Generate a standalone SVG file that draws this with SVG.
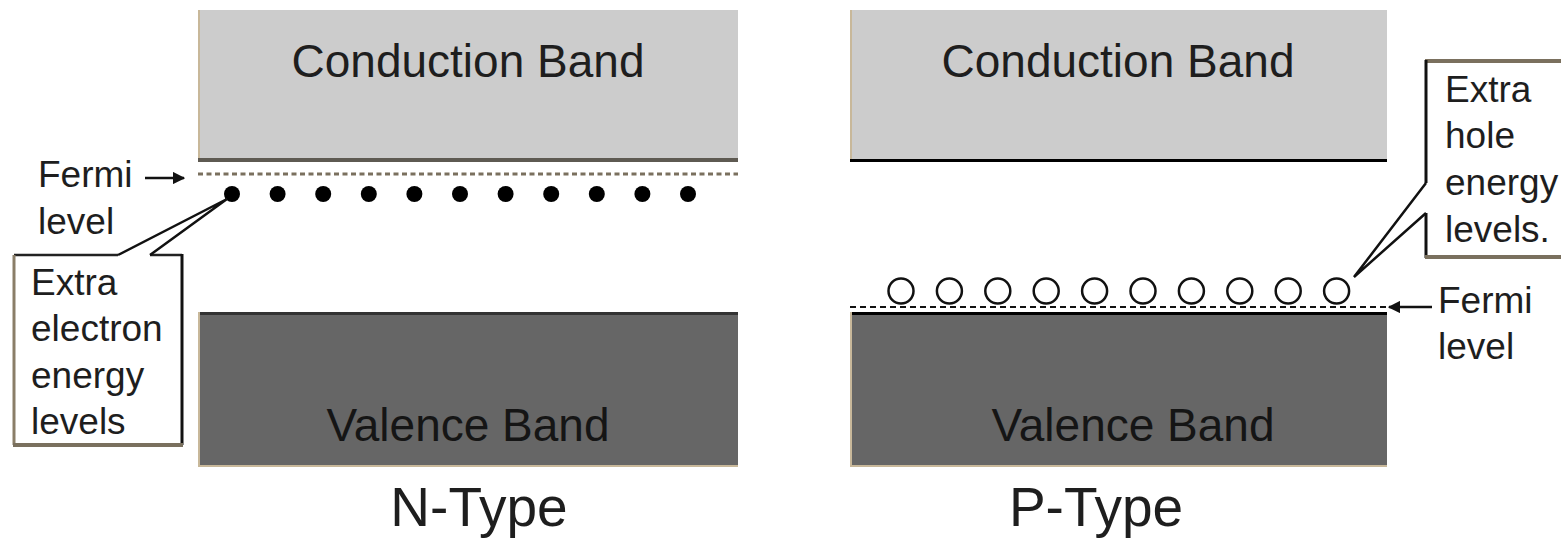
<svg xmlns="http://www.w3.org/2000/svg" width="1561" height="538" viewBox="0 0 1561 538">
<style>
  text { font-family: "Liberation Sans", Arial, sans-serif; fill: #1e1e1e; }
  .band { font-size: 46px; text-anchor: middle; }
  .lbl { font-size: 37px; }
  .title { font-size: 55px; text-anchor: middle; }
  .cb { fill: #cccccc; }
  .vb { fill: #666666; }
  .edge { stroke: #c8b89a; stroke-width: 2; }
  .conn { stroke: #111; stroke-width: 2.5; fill: none; }
</style>
<defs>
  <marker id="ah" viewBox="0 0 10 10" refX="9" refY="5" markerWidth="5" markerHeight="5" orient="auto-start-reverse" markerUnits="strokeWidth">
    <path d="M0,0 L10,5 L0,10 z" fill="#111"/>
  </marker>
</defs>
<rect width="1561" height="538" fill="#ffffff"/>

<!-- N-Type -->
<g id="n-conduction">
  <rect class="cb" x="198" y="10" width="540" height="152"/>
  <line class="edge" x1="199" y1="10" x2="199" y2="162"/>
  <line x1="198" y1="160" x2="738" y2="160" stroke="#5e5a52" stroke-width="4"/>
  <text class="band" x="468" y="77">Conduction Band</text>
</g>
<g id="n-fermi">
  <line x1="198" y1="174" x2="738" y2="174" stroke="#7a705e" stroke-width="3" stroke-dasharray="5 3.5"/>
  <text class="lbl" x="38" y="187">Fermi</text>
  <text class="lbl" x="38" y="234">level</text>
</g>
<g id="n-dots" fill="#000">
  <circle cx="232" cy="194" r="8"/>
  <circle cx="277.6" cy="194" r="8"/>
  <circle cx="323.2" cy="194" r="8"/>
  <circle cx="368.8" cy="194" r="8"/>
  <circle cx="414.4" cy="194" r="8"/>
  <circle cx="460" cy="194" r="8"/>
  <circle cx="505.6" cy="194" r="8"/>
  <circle cx="551.2" cy="194" r="8"/>
  <circle cx="596.8" cy="194" r="8"/>
  <circle cx="642.4" cy="194" r="8"/>
  <circle cx="688" cy="194" r="8"/>
</g>
<g id="n-callout">
  <rect x="14" y="255" width="168" height="190" fill="#fff"/>
  <line x1="14" y1="255" x2="118" y2="255" stroke="#222" stroke-width="2.5"/>
  <line x1="150" y1="255" x2="182" y2="255" stroke="#222" stroke-width="2.5"/>
  <line x1="182" y1="254" x2="182" y2="445" stroke="#111" stroke-width="3"/>
  <line x1="14" y1="255" x2="14" y2="445" stroke="#8a7e68" stroke-width="3"/>
  <line x1="13" y1="445" x2="183" y2="445" stroke="#7a705e" stroke-width="4"/>
  <text class="lbl" x="31" y="295">Extra</text>
  <text class="lbl" x="31" y="341">electron</text>
  <text class="lbl" x="31" y="388">energy</text>
  <text class="lbl" x="31" y="434">levels</text>
</g>
<g id="n-valence">
  <rect class="vb" x="198" y="312" width="540" height="154"/>
  <line x1="198" y1="313.5" x2="738" y2="313.5" stroke="#333" stroke-width="3"/>
  <line class="edge" x1="199" y1="312" x2="199" y2="466"/>
  <line class="edge" x1="198" y1="466" x2="738" y2="466"/>
  <text class="band" x="468" y="441" style="fill:#151515">Valence Band</text>
</g>
<text id="n-title" class="title" x="479" y="526">N-Type</text>

<!-- P-Type -->
<g id="p-conduction">
  <rect class="cb" x="850" y="10" width="537" height="152"/>
  <line class="edge" x1="851" y1="10" x2="851" y2="162"/>
  <line x1="850" y1="160.5" x2="1387" y2="160.5" stroke="#000" stroke-width="3"/>
  <text class="band" x="1118" y="77">Conduction Band</text>
</g>
<g id="p-holes" fill="#fff" stroke="#111" stroke-width="2.5">
  <circle cx="901" cy="291" r="12.5"/>
  <circle cx="949.4" cy="291" r="12.5"/>
  <circle cx="997.8" cy="291" r="12.5"/>
  <circle cx="1046.2" cy="291" r="12.5"/>
  <circle cx="1094.6" cy="291" r="12.5"/>
  <circle cx="1143" cy="291" r="12.5"/>
  <circle cx="1191.4" cy="291" r="12.5"/>
  <circle cx="1239.8" cy="291" r="12.5"/>
  <circle cx="1288.2" cy="291" r="12.5"/>
  <circle cx="1336.6" cy="291" r="12.5"/>
</g>
<g id="p-fermi">
  <line x1="850" y1="307" x2="1387" y2="307" stroke="#111" stroke-width="2" stroke-dasharray="6 4"/>
  <text class="lbl" x="1438" y="313">Fermi</text>
  <text class="lbl" x="1438" y="359">level</text>
</g>
<g id="p-valence">
  <rect class="vb" x="850" y="312" width="537" height="154"/>
  <line x1="850" y1="313.5" x2="1387" y2="313.5" stroke="#000" stroke-width="3"/>
  <line class="edge" x1="851" y1="312" x2="851" y2="466"/>
  <line class="edge" x1="850" y1="466" x2="1387" y2="466"/>
  <text class="band" x="1133" y="441" style="fill:#151515">Valence Band</text>
</g>
<g id="p-callout">
  <rect x="1426" y="61" width="140" height="196" fill="#fff"/>
  <line x1="1425" y1="61" x2="1561" y2="61" stroke="#7a705e" stroke-width="4"/>
  <line x1="1426" y1="60" x2="1426" y2="183" stroke="#111" stroke-width="3"/>
  <line x1="1426" y1="213" x2="1426" y2="258" stroke="#111" stroke-width="3"/>
  <line x1="1425" y1="257" x2="1561" y2="257" stroke="#7a705e" stroke-width="4"/>
  <text class="lbl" x="1445" y="102">Extra</text>
  <text class="lbl" x="1445" y="148">hole</text>
  <text class="lbl" x="1445" y="195">energy</text>
  <text class="lbl" x="1445" y="242">levels.</text>
</g>
<text id="p-title" class="title" x="1096" y="526">P-Type</text>

<g id="connectors">
  <line class="conn" x1="145" y1="178" x2="184" y2="178" marker-end="url(#ah)"/>
  <line class="conn" x1="1432" y1="307" x2="1389" y2="307" marker-end="url(#ah)"/>
  <polyline class="conn" points="118,255 227,199 150,255"/>
  <polyline class="conn" points="1426,183 1354,277 1426,213"/>
</g>
</svg>
